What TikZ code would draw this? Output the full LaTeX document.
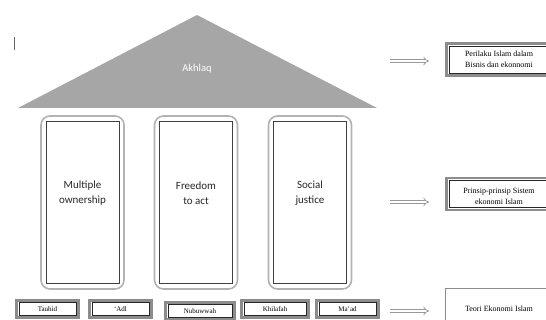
\documentclass[tikz,border=0pt]{standalone}
\usepackage{fontspec}
\setmainfont{Liberation Serif}
\newfontfamily\calibri{Carlito}
\usetikzlibrary{arrows.meta}
\tikzset{
  pillar/.style={draw=black!30, line width=1.6pt, rounded corners=9pt, minimum width=83pt, minimum height=173pt, inner sep=0pt},
  pillarin/.style={draw=black!75, line width=0.6pt, minimum width=73pt, minimum height=162pt, inner sep=0pt},
  pillartext/.style={font=\calibri\fontsize{11}{15.5}\selectfont, align=center, text=black!85},
  pillarbox/.style={draw=black!45, line width=2.8pt, minimum width=62pt, minimum height=17pt, inner sep=0pt},
  pillarboxin/.style={draw=black!85, line width=0.5pt, minimum width=57pt, minimum height=13pt, inner sep=0pt, font=\fontsize{7}{8}\selectfont},
  sidebox/.style={draw=black!45, line width=2.8pt, minimum width=114pt, minimum height=32pt, inner sep=0pt},
  sideboxin/.style={draw=black!85, line width=0.5pt, minimum width=109pt, minimum height=27pt, inner sep=0pt},
  sidetext/.style={font=\fontsize{8}{11}\selectfont, align=center},
  dblarrow/.style={draw=black!40, double=white, double distance=2.2pt, line width=0.7pt, -{Implies[length=5pt]}}
}
\begin{document}
\begin{tikzpicture}[x=1pt,y=-1pt]
\useasboundingbox (0,0) rectangle (546,320);
\clip (0,0) rectangle (546,320);

% roof
\fill[black!35] (18,108) -- (197,15) -- (377,108) -- cycle;
\node[font=\calibri\fontsize{10.5}{12}\selectfont, text=white] (akhlaq) at (197,69) {Akhlaq};
\draw[black!60, line width=0.8pt] (14,37) -- (14,50);

% pillars
\node[pillar] (p1) at (82.5,202.5) {};
\node[pillarin] (p1in) at (p1.center) {};
\node[pillartext] (own) at (82.5,193) {Multiple\\ownership};
\node[pillar] (p2) at (196,202.5) {};
\node[pillarin] (p2in) at (p2.center) {};
\node[pillartext] (free) at (196,193) {Freedom\\to act};
\node[pillar] (p3) at (310,202.5) {};
\node[pillarin] (p3in) at (p3.center) {};
\node[pillartext] (just) at (310,193) {Social\\justice};

% foundation
\node[pillarbox] (tauhid) at (47.5,309) {};
\node[pillarboxin] at (tauhid.center) {Tauhid};
\node[pillarbox] (adl) at (120.5,309) {};
\node[pillarboxin] at (adl.center) {`Adl};
\node[pillarbox, minimum width=69pt] (nubu) at (200,311) {};
\node[pillarboxin, minimum width=64pt] at (nubu.center) {Nubuwwah};
\node[pillarbox, minimum width=67pt] (khil) at (275,309) {};
\node[pillarboxin, minimum width=62pt] at (khil.center) {Khilafah};
\node[pillarbox] (maad) at (347.5,309) {};
\node[pillarboxin] at (maad.center) {Ma'ad};

% side boxes
\node[sidebox] (perilaku) at (503.5,59.5) {};
\node[sideboxin] at (perilaku.center) {};
\node[sidetext] at (499,59) {Perilaku Islam dalam\\Bisnis dan ekonnomi};
\node[sidebox] (prinsip) at (503.5,194) {};
\node[sideboxin] at (prinsip.center) {};
\node[sidetext] at (499,196) {Prinsip-prinsip Sistem\\ekonomi Islam};
\node[draw=black!45, line width=0.8pt, minimum width=120pt, minimum height=40pt, inner sep=0pt] (teori) at (505,308) {};
\node[sidetext] at (499,309) {Teori Ekonomi Islam};

% arrows
\coordinate (a1) at (390,61);
\coordinate (b1) at (429,61);
\coordinate (a2) at (390,202);
\coordinate (b2) at (429,202);
\coordinate (a3) at (390,311);
\coordinate (b3) at (429,311);
\draw[dblarrow] (a1) -- (b1);
\draw[dblarrow] (a2) -- (b2);
\draw[dblarrow] (a3) -- (b3);
\end{tikzpicture}
\end{document}
